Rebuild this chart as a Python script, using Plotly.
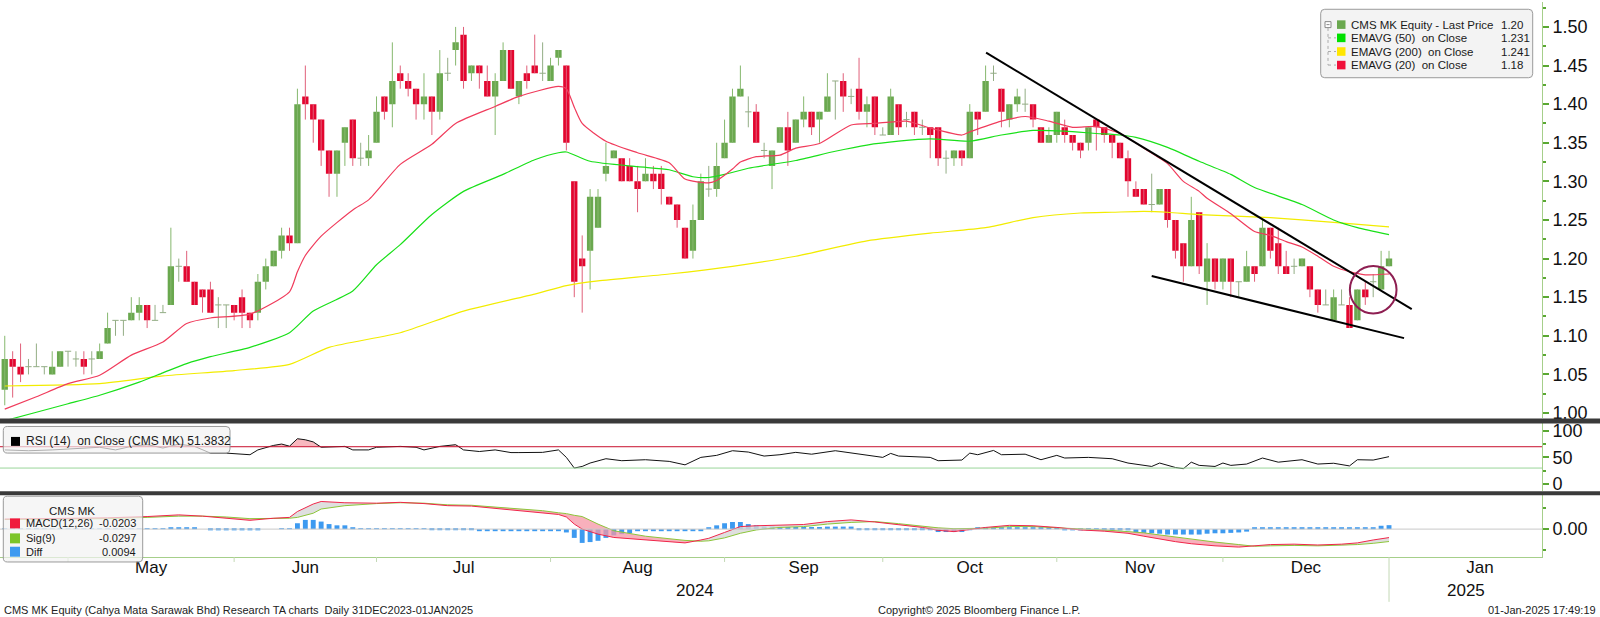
import pandas as pd
import plotly.graph_objects as go

# ---------------- calendar (Bursa Malaysia trading days) ----------------
holidays = ["2024-05-01", "2024-05-22", "2024-06-03", "2024-06-17", "2024-07-08",
            "2024-09-16", "2024-10-31", "2024-12-25"]
trade_days = [d for d in pd.bdate_range("2024-04-19", "2025-01-01")
              if d.strftime("%Y-%m-%d") not in holidays]
future_days = list(pd.bdate_range("2025-01-02", "2025-02-28"))

# ---------------- OHLC ----------------
opens = [1.03,1.07,1.06,1.06,1.06,1.06,1.05,1.06,1.08,1.07,
         1.07,1.07,1.07,1.09,1.12,1.12,1.12,1.13,1.14,1.12,
         1.13,1.14,1.19,1.19,1.17,1.16,1.16,1.14,1.14,1.14,
         1.15,1.13,1.13,1.17,1.19,1.21,1.23,1.22,1.41,1.40,
         1.38,1.34,1.31,1.35,1.38,1.33,1.33,1.35,1.41,1.40,
         1.44,1.43,1.42,1.40,1.41,1.39,1.44,1.47,1.49,1.44,
         1.45,1.43,1.41,1.43,1.47,1.41,1.44,1.45,1.44,1.43,
         1.46,1.45,1.30,1.20,1.21,1.24,1.31,1.33,1.33,1.32,
         1.30,1.30,1.31,1.31,1.28,1.27,1.24,1.21,1.25,1.29,
         1.29,1.33,1.35,1.41,1.39,1.39,1.34,1.32,1.35,1.37,
         1.35,1.38,1.39,1.38,1.39,1.43,1.43,1.41,1.42,1.39,
         1.41,1.36,1.36,1.40,1.38,1.39,1.37,1.37,1.37,1.33,
         1.33,1.34,1.33,1.39,1.39,1.44,1.42,1.38,1.40,1.40,
         1.40,1.37,1.35,1.36,1.37,1.36,1.35,1.35,1.38,1.37,
         1.36,1.35,1.33,1.29,1.29,1.27,1.27,1.29,1.25,1.22,
         1.19,1.26,1.17,1.20,1.17,1.20,1.17,1.17,1.19,1.19,
         1.24,1.22,1.19,1.19,1.19,1.19,1.16,1.14,1.12,1.14,
         1.14,1.12,1.16,1.17,1.16,1.19]
highs = [1.10,1.08,1.09,1.07,1.09,1.06,1.08,1.08,1.08,1.08,
         1.08,1.08,1.09,1.13,1.12,1.12,1.15,1.15,1.14,1.14,
         1.14,1.24,1.20,1.21,1.17,1.16,1.17,1.15,1.14,1.14,
         1.16,1.13,1.18,1.20,1.21,1.24,1.24,1.42,1.45,1.40,
         1.38,1.34,1.34,1.37,1.38,1.35,1.36,1.41,1.41,1.48,
         1.45,1.44,1.42,1.44,1.41,1.47,1.46,1.50,1.50,1.45,
         1.45,1.45,1.44,1.48,1.47,1.43,1.45,1.49,1.48,1.46,
         1.47,1.45,1.30,1.23,1.29,1.29,1.35,1.34,1.33,1.33,
         1.32,1.33,1.32,1.32,1.28,1.27,1.24,1.27,1.31,1.32,
         1.35,1.38,1.42,1.45,1.41,1.40,1.35,1.34,1.37,1.39,
         1.38,1.41,1.39,1.39,1.44,1.43,1.44,1.42,1.46,1.41,
         1.41,1.37,1.42,1.40,1.39,1.39,1.38,1.37,1.37,1.34,
         1.34,1.34,1.40,1.39,1.45,1.45,1.42,1.40,1.42,1.42,
         1.40,1.37,1.37,1.39,1.38,1.36,1.35,1.37,1.38,1.37,
         1.36,1.35,1.34,1.30,1.29,1.31,1.29,1.29,1.25,1.22,
         1.28,1.26,1.22,1.20,1.20,1.20,1.17,1.21,1.19,1.25,
         1.24,1.24,1.21,1.20,1.20,1.19,1.16,1.16,1.16,1.16,
         1.15,1.16,1.17,1.18,1.21,1.21]
lows = [1.01,1.02,1.04,1.05,1.06,1.05,1.05,1.06,1.06,1.06,
        1.05,1.05,1.07,1.09,1.10,1.10,1.12,1.12,1.11,1.12,
        1.13,1.14,1.17,1.17,1.14,1.13,1.13,1.11,1.11,1.12,
        1.11,1.11,1.12,1.16,1.19,1.20,1.21,1.22,1.38,1.35,
        1.32,1.28,1.28,1.32,1.32,1.32,1.32,1.35,1.38,1.37,
        1.42,1.41,1.38,1.38,1.36,1.38,1.43,1.45,1.42,1.43,
        1.42,1.41,1.36,1.43,1.42,1.40,1.42,1.44,1.43,1.43,
        1.45,1.34,1.15,1.13,1.16,1.24,1.30,1.33,1.30,1.30,
        1.26,1.30,1.29,1.27,1.27,1.24,1.20,1.20,1.25,1.28,
        1.28,1.33,1.35,1.41,1.37,1.35,1.33,1.29,1.35,1.32,
        1.35,1.37,1.36,1.35,1.39,1.38,1.39,1.40,1.38,1.37,
        1.36,1.36,1.36,1.36,1.37,1.36,1.36,1.33,1.32,1.31,
        1.32,1.32,1.33,1.36,1.39,1.43,1.37,1.37,1.39,1.39,
        1.37,1.35,1.35,1.35,1.35,1.34,1.33,1.34,1.34,1.35,
        1.33,1.33,1.28,1.28,1.27,1.26,1.27,1.24,1.20,1.17,
        1.19,1.18,1.14,1.16,1.16,1.15,1.15,1.17,1.17,1.19,
        1.20,1.18,1.18,1.18,1.19,1.15,1.13,1.14,1.12,1.14,
        1.11,1.12,1.14,1.15,1.16,1.19]
closes = [1.07,1.06,1.05,1.06,1.06,1.06,1.06,1.08,1.08,1.07,
          1.06,1.07,1.08,1.11,1.12,1.12,1.13,1.14,1.12,1.12,
          1.13,1.19,1.19,1.17,1.14,1.15,1.13,1.14,1.14,1.13,
          1.13,1.12,1.17,1.19,1.21,1.23,1.22,1.40,1.40,1.38,
          1.34,1.31,1.34,1.37,1.33,1.33,1.34,1.39,1.39,1.43,
          1.43,1.42,1.40,1.41,1.39,1.44,1.44,1.48,1.43,1.45,
          1.44,1.41,1.43,1.47,1.42,1.43,1.43,1.44,1.44,1.45,
          1.47,1.35,1.17,1.19,1.28,1.28,1.32,1.34,1.30,1.30,
          1.29,1.31,1.30,1.29,1.27,1.25,1.20,1.25,1.30,1.29,
          1.32,1.35,1.41,1.42,1.39,1.35,1.34,1.34,1.37,1.34,
          1.38,1.39,1.37,1.39,1.41,1.43,1.41,1.41,1.39,1.40,
          1.37,1.36,1.41,1.37,1.38,1.37,1.37,1.36,1.33,1.33,
          1.34,1.33,1.39,1.38,1.43,1.44,1.39,1.40,1.41,1.40,
          1.38,1.35,1.36,1.39,1.36,1.35,1.34,1.37,1.37,1.36,
          1.35,1.33,1.30,1.28,1.27,1.27,1.29,1.25,1.21,1.19,
          1.25,1.19,1.20,1.17,1.20,1.17,1.17,1.19,1.18,1.24,
          1.21,1.19,1.18,1.19,1.20,1.16,1.14,1.14,1.15,1.14,
          1.11,1.16,1.15,1.17,1.19,1.20]

# ---------------- moving averages (read at sample bars) ----------------
ema20_idx = [0,4,8,12,16,20,23,26,31,36,37,38,40,44,46,50,54,57,62,65,70,71,72,73,76,80,84,86,89,90,92,93,95,98,
             100,103,107,110,114,117,121,122,126,129,132,135,138,141,144,147,149,151,152,155,158,160,162,164,166,
             168,170,172,175]
ema20_val = [1.005,1.021,1.038,1.049,1.075,1.092,1.116,1.123,1.128,1.157,1.183,1.204,1.229,1.263,1.276,1.322,
             1.348,1.375,1.397,1.410,1.423,1.420,1.396,1.375,1.352,1.337,1.324,1.303,1.298,1.301,1.316,1.325,
             1.332,1.334,1.343,1.349,1.373,1.375,1.378,1.369,1.360,1.364,1.378,1.384,1.378,1.370,1.371,1.362,
             1.343,1.323,1.300,1.287,1.278,1.258,1.235,1.230,1.222,1.215,1.203,1.190,1.183,1.179,1.180]
ema50_idx = [0,4,8,12,17,20,23,26,31,36,39,44,47,50,54,58,63,67,70,71,74,80,84,87,89,91,94,97,100,105,109,113,
             117,122,126,130,134,138,141,143,147,151,155,158,164,168,171,175]
ema50_val = [0.990,1.001,1.012,1.023,1.040,1.052,1.064,1.073,1.085,1.104,1.132,1.158,1.192,1.218,1.257,1.287,
             1.309,1.328,1.337,1.338,1.326,1.319,1.315,1.306,1.305,1.309,1.317,1.322,1.327,1.339,1.347,1.352,
             1.355,1.352,1.360,1.366,1.365,1.362,1.360,1.357,1.344,1.326,1.309,1.292,1.270,1.250,1.240,1.231]
ema200_idx = [0,12,20,29,36,41,50,58,67,71,75,84,92,100,109,117,124,130,136,140,144,147,151,160,168,175]
ema200_val = [1.035,1.038,1.048,1.055,1.063,1.085,1.104,1.132,1.154,1.165,1.171,1.180,1.190,1.203,1.223,1.233,
              1.240,1.253,1.259,1.260,1.261,1.260,1.257,1.253,1.247,1.241]

# ---------------- RSI(14) ----------------
rsi_idx = [0,3,6,9,12,14,16,18,20,22,24,26,28,31,32,34,35,36,37,38,39,40,43,44,46,47,50,52,53,55,57,58,60,62,
           64,65,68,70,71,72,73,74,76,78,81,84,86,88,90,92,94,96,98,100,102,105,107,111,112,113,117,118,121,122,
           123,125,126,129,131,133,134,137,140,142,145,146,148,149,150,151,153,154,155,157,159,161,164,166,168,
           170,171,173,175]
rsi_val = [64,62.5,64,66,69,64,70.6,74,67.5,75,70.6,58,58,55,64,72.5,75,71,85,83,79,69,70.6,64,64,69,70.6,69,64,
           70.6,73.8,64,61,64,59,59,59.4,64,50,30,33,39.4,47.5,43.8,45.6,42.5,36,50,53.8,62.5,60,52.5,55,59.4,56,
           62.5,58,50,57.5,52.5,50,43.8,45,58,55,63,55,56,45.6,53.8,48.8,50,47.5,39.4,33,39.4,31,28.8,41,35,33,
           39.4,35,37.5,48.8,41,45.6,37.5,39,34,45.6,45,51.4]

# ---------------- MACD(12,26) / Signal(9) ----------------
macd_idx = [0,8,13,18,22,25,28,31,34,36,37,39,40,43,47,50,53,56,59,62,65,68,70,71,72,73,75,77,81,86,88,89,91,93,
            95,98,101,104,107,110,113,116,118,120,122,124,127,130,133,136,139,142,144,146,148,150,153,156,158,160,
            163,166,169,171,173,175]
macd_val = [0.024,0.025,0.027,0.030,0.034,0.031,0.026,0.021,0.026,0.028,0.042,0.060,0.066,0.063,0.062,0.064,0.061,
            0.056,0.055,0.050,0.045,0.040,0.035,0.029,0.012,0.000,-0.012,-0.020,-0.025,-0.033,-0.026,-0.022,-0.008,
            0.006,0.008,0.009,0.011,0.018,0.022,0.017,0.011,0.004,-0.003,-0.006,-0.001,0.004,0.009,0.008,0.004,
            -0.002,-0.005,-0.010,-0.017,-0.024,-0.030,-0.035,-0.040,-0.043,-0.040,-0.037,-0.036,-0.038,-0.036,
            -0.033,-0.026,-0.0203]
sig_val = [0.023,0.024,0.025,0.028,0.031,0.031,0.029,0.025,0.025,0.026,0.028,0.038,0.048,0.056,0.061,0.063,0.062,
           0.058,0.057,0.053,0.049,0.044,0.039,0.037,0.033,0.030,0.012,-0.004,-0.017,-0.027,-0.029,-0.028,-0.021,
           -0.010,-0.002,0.004,0.006,0.012,0.016,0.018,0.013,0.007,0.003,0.001,0.001,0.002,0.006,0.006,0.003,
           0.001,-0.002,-0.006,-0.009,-0.014,-0.019,-0.024,-0.031,-0.037,-0.041,-0.040,-0.039,-0.040,-0.039,
           -0.037,-0.034,-0.0297]
diff_val = [0.001,0.001,0.001,0.0005,0.0005,0.0005,0.0005,0.0005,0.0005,0.0005,
            0.0005,0.0005,0.0005,0.0005,0.0005,0.0005,0.0005,0.0005,0.001,0.001,
            0.001,0.003,0.003,0.003,0.003,0.0,-0.003,-0.003,-0.003,-0.003,
            -0.003,-0.003,-0.003,0.0,0.0,0.002,0.002,0.014,0.022,0.022,
            0.018,0.012,0.009,0.009,0.004,0.001,0.001,0.001,0.001,0.001,
            0.001,0.001,0.001,0.001,-0.002,-0.002,-0.002,-0.002,-0.002,-0.001,
            -0.005,-0.005,-0.005,-0.005,-0.005,-0.005,-0.005,-0.005,-0.005,-0.005,
            -0.005,-0.008,-0.021,-0.033,-0.031,-0.028,-0.021,-0.015,-0.012,-0.010,
            -0.005,-0.005,-0.005,-0.005,-0.005,-0.005,-0.005,-0.005,-0.005,0.004,
            0.009,0.014,0.017,0.017,0.012,0.009,0.006,0.006,0.005,0.005,
            0.005,0.005,0.005,0.005,0.006,0.006,0.006,0.006,-0.001,-0.001,
            -0.001,-0.001,-0.001,-0.001,-0.001,-0.001,-0.001,-0.001,-0.007,-0.007,
            -0.007,-0.007,-0.002,0.003,0.003,0.003,0.003,0.003,0.003,0.003,
            0.003,0.003,0.003,0.003,-0.003,-0.003,-0.003,-0.003,-0.003,-0.003,
            -0.003,-0.003,-0.003,-0.008,-0.009,-0.010,-0.011,-0.013,-0.013,-0.013,
            -0.013,-0.013,-0.011,-0.010,-0.010,-0.009,-0.008,-0.006,0.003,0.003,
            0.003,0.003,0.003,0.003,0.003,0.003,0.003,0.003,0.003,0.003,
            0.003,0.003,0.003,0.003,0.008,0.0094]

# ---------------- drawn annotations (data coordinates) ----------------
trend_upper_x, trend_upper_y = [124.06, 177.87], [1.4668, 1.1344]
trend_lower_x, trend_lower_y = [145.0, 176.9], [1.1774, 1.0970]
circle_x, circle_y = 173.0, 1.1596
circle_rx, circle_ry = 2.95, 0.0307

legend_rows = [("CMS MK Equity - Last Price", "1.20"),
               ("EMAVG (50)\u00a0 on Close", "1.231"),
               ("EMAVG (200)\u00a0 on Close", "1.241"),
               ("EMAVG (20)\u00a0 on Close", "1.18")]
macd_rows = [("MACD(12,26)", "-0.0203"), ("Sig(9)", "-0.0297"), ("Diff", "0.0094")]

# ---------------- styling ----------------
UP, DOWN = "#6aa84f", "#e3062f"
UP_WICK, DOWN_WICK = "#86b86e", "#e0607a"
DOJI = "#93ad85"
C20, C50, C200 = "#f03c5c", "#19e019", "#f2ec00"
AX_LINE, AX_TICK = "#a6cf8a", "#5aa832"
FONT = "Liberation Sans"
PL, PB = 1542, 557            # plot-area size in px (margins l=0, t=0, r=58, b=60)
X_RANGE = [-0.6, 194.34]


def px(x):
    return x / PL


def py(y):
    return (PB - y) / PB


def rounded(x0, y0, x1, y1, r):
    return (f"M {px(x0+r)},{py(y0)} L {px(x1-r)},{py(y0)} Q {px(x1)},{py(y0)} {px(x1)},{py(y0+r)} "
            f"L {px(x1)},{py(y1-r)} Q {px(x1)},{py(y1)} {px(x1-r)},{py(y1)} L {px(x0+r)},{py(y1)} "
            f"Q {px(x0)},{py(y1)} {px(x0)},{py(y1-r)} L {px(x0)},{py(y0+r)} Q {px(x0)},{py(y0)} {px(x0+r)},{py(y0)} Z")


n = len(trade_days)
idx = list(range(n))
up_i = [i for i in idx if closes[i] > opens[i]]
dn_i = [i for i in idx if closes[i] < opens[i]]
dj_i = [i for i in idx if closes[i] == opens[i]]

fig = go.Figure()


def wicks(sel, color):
    xs, ys = [], []
    for i in sel:
        xs += [i, i, None]
        ys += [lows[i], highs[i], None]
    fig.add_trace(go.Scatter(x=xs, y=ys, mode="lines", line=dict(color=color, width=1),
                             hoverinfo="skip", yaxis="y"))


wicks(up_i, UP_WICK)
wicks(dn_i, DOWN_WICK)
wicks(dj_i, DOJI)

for sel, col in ((up_i, UP), (dn_i, DOWN)):
    fig.add_trace(go.Bar(x=sel, base=[min(opens[i], closes[i]) for i in sel],
                         y=[abs(closes[i] - opens[i]) for i in sel], width=0.8,
                         marker=dict(color=col, line=dict(width=0)), yaxis="y", hoverinfo="skip"))

dx, dy = [], []
for i in dj_i:
    dx += [i - 0.4, i + 0.4, None]
    dy += [opens[i], opens[i], None]
fig.add_trace(go.Scatter(x=dx, y=dy, mode="lines", line=dict(color=DOJI, width=1), yaxis="y"))

for xi, yv, col in ((ema200_idx, ema200_val, C200), (ema50_idx, ema50_val, C50), (ema20_idx, ema20_val, C20)):
    fig.add_trace(go.Scatter(x=xi, y=yv, mode="lines", line=dict(color=col, width=1.2, shape="spline",
                                                                 smoothing=0.6), yaxis="y"))

# RSI panel
fig.add_trace(go.Scatter(x=rsi_idx, y=[70] * len(rsi_idx), mode="lines", line=dict(width=0), yaxis="y2"))
fig.add_trace(go.Scatter(x=rsi_idx, y=[max(v, 70) for v in rsi_val], mode="lines", line=dict(width=0),
                         fill="tonexty", fillcolor="rgba(245,160,170,0.75)", yaxis="y2"))
fig.add_trace(go.Scatter(x=rsi_idx, y=[30] * len(rsi_idx), mode="lines", line=dict(width=0), yaxis="y2"))
fig.add_trace(go.Scatter(x=rsi_idx, y=[min(v, 30) for v in rsi_val], mode="lines", line=dict(width=0),
                         fill="tonexty", fillcolor="rgba(120,200,120,0.75)", yaxis="y2"))
fig.add_trace(go.Scatter(x=rsi_idx, y=rsi_val, mode="lines", line=dict(color="#111111", width=1), yaxis="y2"))

# MACD panel
fig.add_trace(go.Bar(x=idx, y=diff_val, width=0.62, marker=dict(color="#3d9af0", line=dict(width=0)),
                     yaxis="y3"))
k = 0
while k < len(macd_idx) - 1:
    sign = (macd_val[k] + macd_val[k + 1] - sig_val[k] - sig_val[k + 1]) >= 0
    j = k
    while j < len(macd_idx) - 1 and ((macd_val[j] + macd_val[j + 1] - sig_val[j] - sig_val[j + 1]) >= 0) == sign:
        j += 1
    xs = macd_idx[k:j + 1] + macd_idx[k:j + 1][::-1]
    ys = macd_val[k:j + 1] + sig_val[k:j + 1][::-1]
    fig.add_trace(go.Scatter(x=xs, y=ys, mode="lines", line=dict(width=0), fill="toself",
                             fillcolor="rgba(215,215,215,0.8)" if sign else "rgba(245,150,165,0.75)",
                             yaxis="y3"))
    k = j
fig.add_trace(go.Scatter(x=macd_idx, y=sig_val, mode="lines", line=dict(color="#8cc63a", width=1), yaxis="y3"))
fig.add_trace(go.Scatter(x=macd_idx, y=macd_val, mode="lines", line=dict(color="#f0264a", width=1), yaxis="y3"))

# ---------------- month / year axis ----------------
all_days = trade_days + future_days
starts = [k for k in range(1, len(all_days)) if all_days[k].month != all_days[k - 1].month]
month_pos, month_txt = [], []
for a, b in zip(starts[:-1], starts[1:]):
    month_pos.append((a + b) / 2)
    month_txt.append(all_days[a].strftime("%b"))
year_start = [k for k in starts if all_days[k].month == 1][0]

shapes = []
for k in starts[:-1]:
    is_year = all_days[k].month == 1
    shapes.append(dict(type="line", xref="x", yref="paper", x0=k, x1=k, y0=0,
                       y1=py(602) if is_year else py(562), line=dict(color="#c3d8b5", width=1)))

tick_axis = dict(showgrid=False, zeroline=False, showline=True, linecolor=AX_LINE, linewidth=1, side="right",
                 anchor="x", ticks="outside", ticklen=6, tickwidth=2, tickcolor=AX_TICK,
                 tickfont=dict(family=FONT, size=18, color="#111111"))

fig.update_layout(
    width=1600, height=617, margin=dict(l=0, r=58, t=0, b=60),
    paper_bgcolor="white", plot_bgcolor="white", showlegend=False, barmode="overlay",
    xaxis=dict(domain=[0, 1], range=X_RANGE, anchor="y3", showgrid=False, zeroline=False, showline=True,
               linecolor=AX_LINE, linewidth=1, tickmode="array", tickvals=month_pos, ticktext=month_txt,
               ticks="", ticklabelstandoff=-5, tickfont=dict(family=FONT, size=17, color="#111111")),
    yaxis=dict(domain=[py(418), 1], range=[0.9929, 1.53226], dtick=0.05, tick0=1.0, tickformat=".2f",
               minor=dict(dtick=0.025, ticks="outside", ticklen=3, tickcolor=AX_TICK), **tick_axis),
    yaxis2=dict(domain=[py(491), py(423)], range=[-13.5, 113.6], dtick=50, tick0=0,
                minor=dict(dtick=25, ticks="outside", ticklen=3, tickcolor=AX_TICK), **tick_axis),
    yaxis3=dict(domain=[0, py(495)], range=[-0.0667, 0.081], tickmode="array", tickvals=[0],
                ticktext=["0.00"], minor=dict(tickmode="array", tickvals=[-0.05, 0.05], ticks="outside",
                                              ticklen=3, tickcolor=AX_TICK), **tick_axis),
)

# reference lines & panel dividers
shapes += [
    dict(type="line", xref="paper", yref="y2", x0=0, x1=1, y0=70, y1=70, line=dict(color="#c8102e", width=1)),
    dict(type="line", xref="paper", yref="y2", x0=0, x1=1, y0=30, y1=30, line=dict(color="#9ad69a", width=1)),
    dict(type="line", xref="paper", yref="y3", x0=0, x1=1, y0=0, y1=0, line=dict(color="#c8c8c8", width=1)),
    dict(type="rect", xref="paper", yref="paper", x0=0, x1=1600 / PL, y0=py(423), y1=py(418),
         fillcolor="#3a3a3a", line=dict(width=0), layer="above"),
    dict(type="rect", xref="paper", yref="paper", x0=0, x1=1600 / PL, y0=py(495), y1=py(491),
         fillcolor="#3a3a3a", line=dict(width=0), layer="above"),
    # trend lines & circle
    dict(type="line", xref="x", yref="y", x0=trend_upper_x[0], x1=trend_upper_x[1], y0=trend_upper_y[0],
         y1=trend_upper_y[1], line=dict(color="#000000", width=2), layer="above"),
    dict(type="line", xref="x", yref="y", x0=trend_lower_x[0], x1=trend_lower_x[1], y0=trend_lower_y[0],
         y1=trend_lower_y[1], line=dict(color="#000000", width=2), layer="above"),
    dict(type="circle", xref="x", yref="y", x0=circle_x - circle_rx, x1=circle_x + circle_rx,
         y0=circle_y - circle_ry, y1=circle_y + circle_ry, line=dict(color="#8e1f52", width=2), layer="above"),
    # legend boxes
    dict(type="path", xref="paper", yref="paper", path=rounded(1320.7, 7.3, 1532.7, 76, 4),
         fillcolor="rgba(242,242,242,0.92)", line=dict(color="#9a9a9a", width=1), layer="above"),
    dict(type="path", xref="paper", yref="paper", path=rounded(3.3, 426, 230, 452.7, 4),
         fillcolor="rgba(242,242,242,0.7)", line=dict(color="#9a9a9a", width=1), layer="above"),
    dict(type="path", xref="paper", yref="paper", path=rounded(3.3, 496, 142.7, 562, 4),
         fillcolor="rgba(242,242,242,0.7)", line=dict(color="#9a9a9a", width=1), layer="above"),
]

# legend tree & icons
row_y = [22.7, 36.0, 49.7, 63.3]
icon_cols = [UP, "#00e000", "#ffe600", "#f0103a"]
shapes.append(dict(type="rect", xref="paper", yref="paper", x0=px(1325), x1=px(1331), y0=py(25.7), y1=py(19.7),
                   line=dict(color="#8a8a8a", width=1), fillcolor="white", layer="above"))
shapes.append(dict(type="line", xref="paper", yref="paper", x0=px(1326.5), x1=px(1329.5), y0=py(22.7),
                   y1=py(22.7), line=dict(color="#8a8a8a", width=1), layer="above"))
shapes.append(dict(type="line", xref="paper", yref="paper", x0=px(1328), x1=px(1328), y0=py(26), y1=py(63.3),
                   line=dict(color="#aaaaaa", width=1, dash="dot"), layer="above"))
for ry, col in zip(row_y, icon_cols):
    shapes.append(dict(type="rect", xref="paper", yref="paper", x0=px(1337), x1=px(1345.5), y0=py(ry + 4.3),
                       y1=py(ry - 4.3), fillcolor=col, line=dict(width=0), layer="above"))
for ry in row_y[1:]:
    shapes.append(dict(type="line", xref="paper", yref="paper", x0=px(1328), x1=px(1336), y0=py(ry), y1=py(ry),
                       line=dict(color="#aaaaaa", width=1, dash="dot"), layer="above"))
shapes.append(dict(type="rect", xref="paper", yref="paper", x0=px(11), x1=px(20), y0=py(445.5), y1=py(436.5),
                   fillcolor="#000000", line=dict(width=0), layer="above"))
macd_y = [523.3, 538.3, 551.7]
for ry, col in zip(macd_y, ["#f01a3c", "#7cc52a", "#3d9af0"]):
    shapes.append(dict(type="rect", xref="paper", yref="paper", x0=px(10), x1=px(20), y0=py(ry + 5),
                       y1=py(ry - 5), fillcolor=col, line=dict(width=0), layer="above"))
fig.update_layout(shapes=shapes)

ann = []
TXT = dict(family=FONT, size=11.5, color="#1a1a1a")
for (lab, val), ry in zip(legend_rows, row_y):
    ann.append(dict(x=px(1349), y=py(ry), xref="paper", yref="paper", text=lab, showarrow=False,
                    xanchor="left", yanchor="middle", font=TXT))
    ann.append(dict(x=px(1499), y=py(ry), xref="paper", yref="paper", text=val, showarrow=False,
                    xanchor="left", yanchor="middle", font=TXT))
ann.append(dict(x=px(24), y=py(441), xref="paper", yref="paper", showarrow=False, xanchor="left",
                yanchor="middle", text="RSI (14)\u00a0 on Close (CMS MK) 51.3832",
                font=dict(family=FONT, size=12, color="#1a1a1a")))
ann.append(dict(x=px(72), y=py(510.7), xref="paper", yref="paper", showarrow=False, xanchor="center",
                yanchor="middle", text="CMS MK", font=dict(family=FONT, size=11.5, color="#1a1a1a")))
MF = dict(family=FONT, size=11, color="#1a1a1a")
for (lab, val), ry in zip(macd_rows, macd_y):
    ann.append(dict(x=px(24), y=py(ry), xref="paper", yref="paper", text=lab, showarrow=False,
                    xanchor="left", yanchor="middle", font=MF))
    ann.append(dict(x=px(138), y=py(ry), xref="paper", yref="paper", text=val, showarrow=False,
                    xanchor="right", yanchor="middle", font=MF))
# year labels
ann.append(dict(x=(X_RANGE[0] + year_start) / 2, y=py(590.5), xref="x", yref="paper", text="2024",
                showarrow=False, yanchor="middle", font=dict(family=FONT, size=17, color="#111111")))
ann.append(dict(x=(year_start + X_RANGE[1]) / 2, y=py(590.5), xref="x", yref="paper", text="2025",
                showarrow=False, yanchor="middle", font=dict(family=FONT, size=17, color="#111111")))
# footer
FOOT = dict(family=FONT, size=11, color="#222222")
ann.append(dict(x=px(2), y=py(610), xref="paper", yref="paper", showarrow=False, xanchor="left",
                yanchor="middle", font=FOOT,
                text="CMS MK Equity (Cahya Mata Sarawak Bhd) Research TA charts\u00a0 Daily 31DEC2023-01JAN2025"))
ann.append(dict(x=px(979), y=py(610), xref="paper", yref="paper", showarrow=False, xanchor="center",
                yanchor="middle", font=FOOT, text="Copyright\u00a9 2025 Bloomberg Finance L.P."))
ann.append(dict(x=px(1598), y=py(610), xref="paper", yref="paper", showarrow=False, xanchor="right",
                yanchor="middle", font=FOOT, text="01-Jan-2025 17:49:19"))
fig.update_layout(annotations=ann)

fig.write_html("out.html", config={"displayModeBar": False},
               post_script="document.body.style.margin='0';document.body.style.padding='0';"
                           "document.body.style.overflow='hidden';")
